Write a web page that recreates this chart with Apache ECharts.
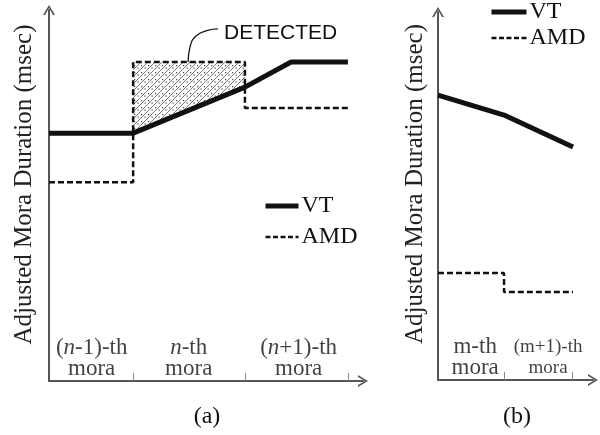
<!DOCTYPE html>
<html lang="en">
<head>
  <meta charset="UTF-8">
  <title>Adjusted Mora Duration</title>
  <script src="https://cdn.jsdelivr.net/npm/echarts@6/dist/echarts.min.js"></script>
  <style type="text/css">
    body{ margin:0; background:#fff; }
    #main{ width:600px; height:435px; }
  </style>
</head>
<body>
<div id="main"></div>
<script type="text/javascript">
// panel (a) - x in % of axis length, y in % of axis height
var vtA = [[0, 66.8], [26.8, 66.8], [62.4, 79.2], [77.1, 86.0], [95.2, 86.0]];
var amdA = [[0, 53.6], [26.8, 53.6], [26.8, 86.0], [62.4, 86.0], [62.4, 73.6], [95.2, 73.6]];
var hatchTop = [[26.8, 86.0], [62.4, 86.0]];
var hatchBottom = [[26.8, 66.8], [62.4, 79.2]];
var leader = [[44.3, 86.0], [44.9, 90.0], [46.8, 93.0], [50.5, 94.5], [53.8, 94.9]];
var ticksA = [26.8, 62.4, 95.2];
var catPosA = [13.6, 44.5, 79.5];
var catLabelsA = ['({i|n}-1)-th\nmora', '{i|n}-th\nmora', '({i|n}+1)-th\nmora'];

// panel (b)
var vtB = [[0, 77.4], [42.6, 72.0], [87.1, 63.3]];
var amdB = [[0, 29.1], [42.6, 29.1], [42.6, 23.9], [87.1, 23.9]];
var ticksB = [42.6, 86.5];
var catPosB = [24.0, 71.0];
var catLabelsB = ['{m|m-th}\n{m|mora}', '{s|(m+1)-th}\n{s|mora}'];

var serif = '"Liberation Serif", "Times New Roman", serif';

// hatch pattern: diagonal lines + dots
var pat = document.createElement('canvas');
pat.width = 7; pat.height = 7;
var c = pat.getContext('2d');
c.strokeStyle = '#777';
c.lineWidth = 1;
c.beginPath(); c.moveTo(0, 7); c.lineTo(7, 0); c.stroke();
c.fillStyle = '#444';
c.fillRect(4.5, 4.5, 1.2, 1.2);
c.fillRect(1, 2, 1.2, 1.2);

var arrow = 'path://M0,10 L6,0 L12,10 L10,10 L6,3 L2,10 Z';

function xAx(gi, ticks) {
  return {
    gridIndex: gi, type: 'value', min: 0, max: 100,
    splitLine: {show: false},
    axisLine: {show: true, symbol: ['none', arrow], symbolSize: [14, 10],
      lineStyle: {color: '#555', width: 2}},
    axisTick: {show: true, inside: true, length: 8, customValues: ticks,
      lineStyle: {color: '#888', width: 1}},
    axisLabel: {show: false}
  };
}
function yAx(gi, gap, shift) {
  return {
    gridIndex: gi, type: 'value', min: 0, max: 100,
    name: 'Adjusted Mora Duration (msec)', nameLocation: 'middle', nameRotate: 90, nameGap: gap,
    nameTextStyle: {fontFamily: serif, fontSize: 25, color: '#222', padding: [0, 0, 0, shift]},
    splitLine: {show: false},
    axisLine: {show: true, symbol: ['none', arrow], symbolSize: [14, 10],
      lineStyle: {color: '#555', width: 2}},
    axisTick: {show: false},
    axisLabel: {show: false}
  };
}

function catSeries(gi, pos, fmt) {
  return {
    type: 'scatter', xAxisIndex: gi, yAxisIndex: gi, silent: true,
    data: pos.map(function (x) { return [x, 0]; }),
    symbolSize: 1, itemStyle: {color: 'transparent'}, z: 6,
    label: {show: true, position: 'top', distance: 1,
      formatter: function (p) { return fmt[p.dataIndex]; },
      color: '#111', fontFamily: serif, fontSize: 23, lineHeight: 21,
      rich: {
        i: {fontFamily: serif, fontSize: 23, fontStyle: 'italic', lineHeight: 21, color: '#111'},
        m: {fontFamily: serif, fontSize: 23, lineHeight: 21, color: '#111'},
        s: {fontFamily: serif, fontSize: 19, lineHeight: 21, color: '#111'}
      }}
  };
}

var vtStyle = {color: '#111', width: 5};
var amdStyle = {color: '#111', width: 2.5, type: [6, 3]};
var legendText = {fontFamily: serif, fontSize: 24, color: '#111', padding: [0, 0, 0, -2]};
var legendData = [
  {name: 'VT', lineStyle: {color: '#111', width: 5}},
  {name: 'AMD', lineStyle: {color: '#111', width: 2.5, type: [5, 2.5]}}
];

var option = {
  animation: false,
  grid: [
    {left: 49, top: 10, width: 314, height: 371},
    {left: 438, top: 12, width: 155, height: 368}
  ],
  xAxis: [xAx(0, ticksA), xAx(1, ticksB)],
  yAxis: [yAx(0, 12, 22), yAx(1, 10, 24)],
  legend: [
    {orient: 'vertical', left: 258, top: 189, itemWidth: 33, itemHeight: 14, itemGap: 7,
      data: legendData, selectedMode: false, itemStyle: {opacity: 0}, textStyle: legendText},
    {orient: 'vertical', left: 484, top: -5, itemWidth: 35, itemHeight: 14, itemGap: 2,
      data: legendData, selectedMode: false, itemStyle: {opacity: 0}, textStyle: legendText}
  ],
  graphic: [
    {type: 'text', style: {x: 224, y: 33, text: 'DETECTED', verticalAlign: 'middle',
      font: '21px "Liberation Sans", Arial, sans-serif', fill: '#111'}},
    {type: 'text', style: {x: 207, y: 417, text: '(a)', align: 'center', verticalAlign: 'middle',
      font: '24px ' + serif, fill: '#111'}},
    {type: 'text', style: {x: 517, y: 417, text: '(b)', align: 'center', verticalAlign: 'middle',
      font: '24px ' + serif, fill: '#111'}}
  ],
  series: [
    {name: 'hatch', type: 'custom', xAxisIndex: 0, yAxisIndex: 0, data: hatchTop, z: 1,
      encode: {x: 0, y: 1}, silent: true,
      renderItem: function (params, api) {
        if (params.dataIndex !== 0) return;
        var pts = hatchTop.map(function (p) { return api.coord(p); });
        hatchBottom.slice().reverse().forEach(function (p) { pts.push(api.coord(p)); });
        return {type: 'polygon', shape: {points: pts},
          style: {fill: {image: pat, repeat: 'repeat'}, stroke: null}};
      }},
    {name: 'AMD', type: 'line', xAxisIndex: 0, yAxisIndex: 0, data: amdA,
      symbol: 'none', lineStyle: amdStyle, itemStyle: {color: '#111'}, z: 3},
    {name: 'VT', type: 'line', xAxisIndex: 0, yAxisIndex: 0, data: vtA,
      symbol: 'none', lineStyle: vtStyle, itemStyle: {color: '#111'}, z: 4},
    {name: 'leader', type: 'line', xAxisIndex: 0, yAxisIndex: 0, data: leader, smooth: true,
      symbol: 'none', lineStyle: {color: '#111', width: 1.3}, z: 5},
    {name: 'AMD', type: 'line', xAxisIndex: 1, yAxisIndex: 1, data: amdB,
      symbol: 'none', lineStyle: amdStyle, itemStyle: {color: '#111'}, z: 3},
    {name: 'VT', type: 'line', xAxisIndex: 1, yAxisIndex: 1, data: vtB,
      symbol: 'none', lineStyle: vtStyle, itemStyle: {color: '#111'}, z: 4},
    catSeries(0, catPosA, catLabelsA),
    catSeries(1, catPosB, catLabelsB)
  ]
};

var myChart = echarts.init(document.getElementById('main'));
myChart.setOption(option);
</script>
</body>
</html>
